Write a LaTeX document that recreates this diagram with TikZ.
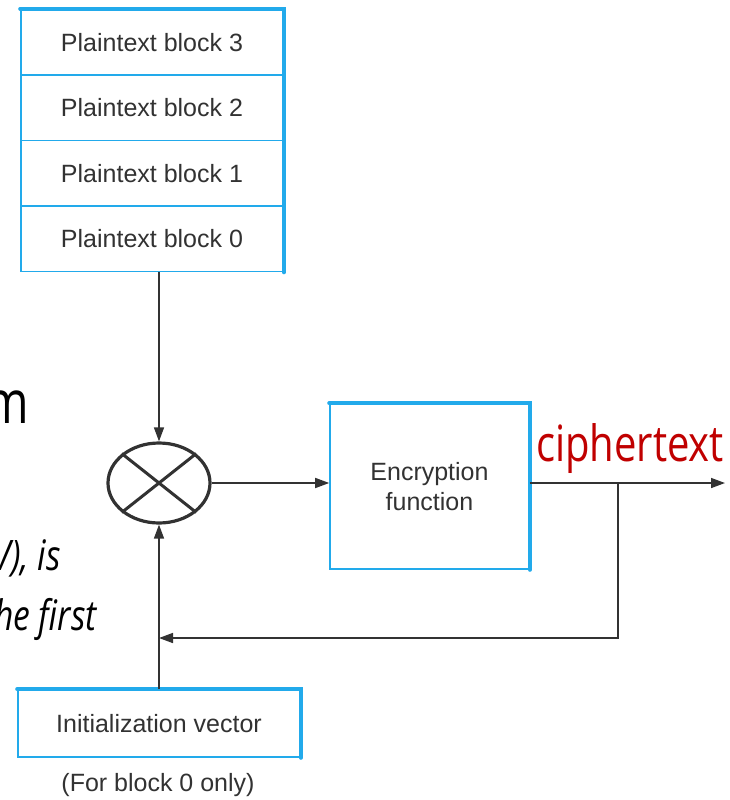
\documentclass[tikz,border=0pt]{standalone}
\usepackage{fontspec}
\usepackage{graphicx}
\setmainfont{Liberation Sans}
\newfontfamily\slidefont{Open Sans}
\usetikzlibrary{arrows.meta,shapes.geometric}
\definecolor{boxblue}{RGB}{34,170,235}
\definecolor{ink}{RGB}{50,50,50}
\definecolor{cipherred}{RGB}{192,0,0}
\tikzset{
  lbl/.style={font=\fontsize{25}{30}\selectfont, text=ink, align=center},
  cell/.style={draw=boxblue, line width=1.6pt, minimum width=262pt, minimum height=65.5pt, inner sep=0pt, lbl},
  wire/.style={draw=ink, line width=1.5pt},
  flow/.style={wire, -{Triangle[length=14pt,width=10pt]}},
  edge/.style={draw=boxblue, line width=4pt, line cap=round},
  slide/.style={inner sep=0pt, text=black}
}
\begin{document}
\begin{tikzpicture}[x=1pt,y=-1pt]
  \useasboundingbox (0,0) rectangle (729,800);

  % stacked plaintext blocks
  \node[cell] (p3) at (152,42.25) {Plaintext block 3};
  \node[cell] (p2) at (152,107.75) {Plaintext block 2};
  \node[cell] (p1) at (152,173.25) {Plaintext block 1};
  \node[cell] (p0) at (152,238.75) {Plaintext block 0};
  \draw[edge] (p3.north west) -- (p3.north east) -- (p0.south east);

  % combining operator
  \node[ellipse, draw=ink, line width=3.2pt, minimum width=102pt, minimum height=80pt, inner sep=0pt] (mix) at (159,483) {};
  \draw[ink, line width=3pt] (mix.north west) -- (mix.south east);
  \draw[ink, line width=3pt] (mix.north east) -- (mix.south west);

  % encryption function
  \node[draw=boxblue, line width=1.6pt, minimum width=199pt, minimum height=165pt, inner sep=0pt, lbl] (enc) at (429.5,486.5) {Encryption\\function};
  \draw[edge] (enc.north west) -- (enc.north east) -- (enc.south east);

  % initialization vector
  \node[draw=boxblue, line width=1.6pt, minimum width=282pt, minimum height=67pt, inner sep=0pt, lbl] (iv) at (159,723.5) {Initialization vector};
  \draw[edge] (iv.north west) -- (iv.north east) -- (iv.south east);
  \node[lbl] (ivnote) at (158,785) {(For block 0 only)};

  % connectors
  \coordinate (out) at (725,483);
  \coordinate (branch) at (618,483);
  \coordinate (turn) at (618,638);
  \coordinate (merge) at (mix.south |- turn);
  \draw[flow] (p0.south -| mix) -- (mix.north);
  \draw[flow] (mix.east) -- (mix.east -| enc.west);
  \draw[flow] (mix.east -| enc.east) -- (out);
  \draw[flow] (branch) -- (turn) -- (merge);
  \draw[flow] (iv.north -| mix) -- (mix.south);

  \node[slide, anchor=base west, text=cipherred] (ct) at (536,461)
    {\scalebox{0.8}[1]{\slidefont\fontsize{50}{56}\selectfont ciphertext}};

  % slide text running in from the left
  \begin{scope}
    \clip (0,0) rectangle (729,800);
    \node[slide, anchor=base east] (frag1) at (29,423)
      {\scalebox{0.78}[1]{\slidefont\fontsize{60}{66}\selectfont m}};
    \node[slide, anchor=base east] (frag2) at (61,570)
      {\scalebox{0.8}[1]{\slidefont\itshape\fontsize{42}{48}\selectfont V), is}};
    \node[slide, anchor=base east] (frag3) at (97,630)
      {\scalebox{0.8}[1]{\slidefont\itshape\fontsize{42}{48}\selectfont he first}};
  \end{scope}
\end{tikzpicture}
\end{document}
